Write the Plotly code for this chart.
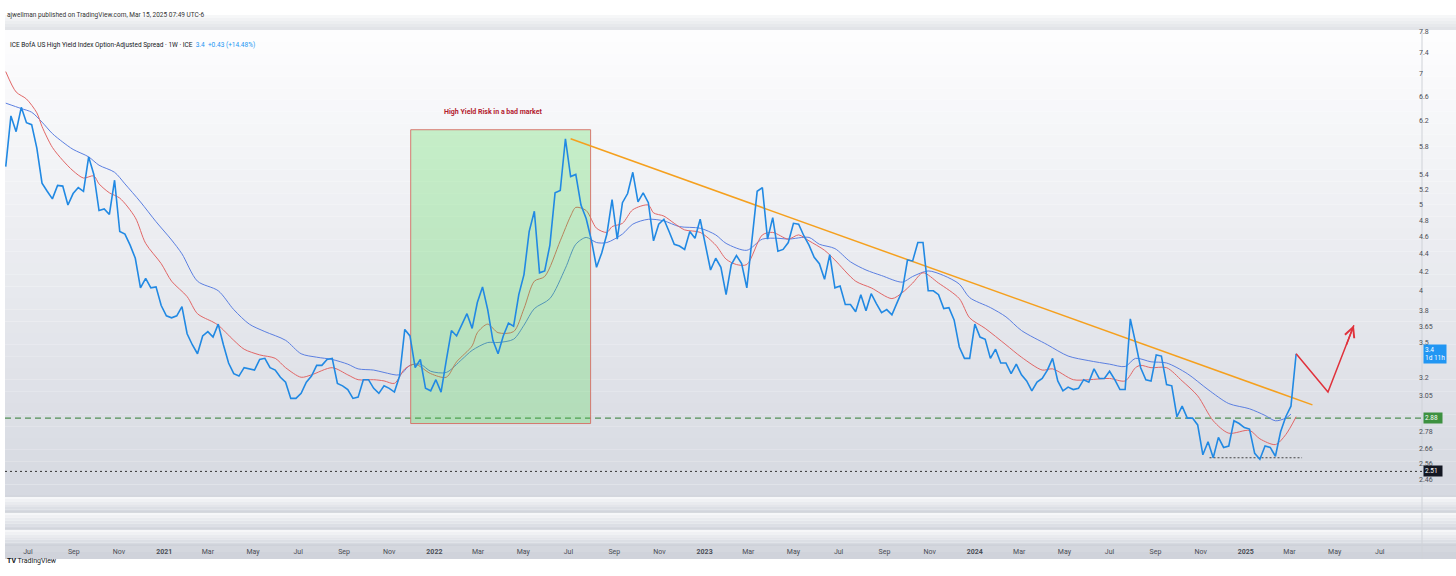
import math
import pandas as pd
import plotly.graph_objects as go

W, H = 1456, 576

# weekly ICE BofA US High Yield OAS (%)
spread = [
    5.51, 6.28, 6.03, 6.42, 6.17, 6.14, 5.78, 5.28, 5.17, 5.07,
    5.25, 5.24, 4.99, 5.14, 5.22, 5.17, 5.65, 5.40, 4.92, 4.94,
    4.87, 5.32, 4.66, 4.63, 4.50, 4.35, 4.03, 4.13, 4.03, 4.04,
    3.85, 3.75, 3.73, 3.75, 3.84, 3.58, 3.48, 3.40, 3.56, 3.60,
    3.55, 3.67, 3.48, 3.32, 3.23, 3.21, 3.28, 3.27, 3.26, 3.35,
    3.36, 3.28, 3.26, 3.20, 3.16, 3.03, 3.03, 3.07, 3.16, 3.21,
    3.30, 3.30, 3.35, 3.36, 3.15, 3.13, 3.10, 3.03, 3.04, 3.18,
    3.18, 3.11, 3.07, 3.13, 3.11, 3.08, 3.21, 3.62, 3.56, 3.28,
    3.35, 3.11, 3.09, 3.18, 3.08, 3.34, 3.61, 3.56, 3.66, 3.77,
    3.63, 3.88, 4.04, 3.81, 3.52, 3.40, 3.56, 3.68, 3.65, 3.96,
    4.17, 4.66, 4.91, 4.19, 4.21, 4.50, 5.15, 5.18, 5.92, 5.37,
    5.40, 4.99, 4.82, 4.56, 4.25, 4.41, 4.63, 5.06, 4.57, 5.02,
    5.14, 5.43, 5.03, 5.15, 5.02, 4.55, 4.75, 4.81, 4.66, 4.51,
    4.49, 4.45, 4.66, 4.58, 4.81, 4.50, 4.22, 4.35, 4.25, 3.96,
    4.28, 4.38, 4.29, 4.03, 4.56, 5.17, 5.22, 4.57, 4.83, 4.43,
    4.45, 4.53, 4.76, 4.75, 4.61, 4.50, 4.36, 4.29, 4.12, 4.39,
    4.03, 4.05, 3.86, 3.86, 3.79, 3.96, 3.80, 3.97, 3.87, 3.78,
    3.81, 3.76, 3.88, 4.00, 4.33, 4.32, 4.53, 4.53, 4.00, 4.00,
    3.96, 3.82, 3.83, 3.71, 3.46, 3.36, 3.36, 3.67, 3.55, 3.53,
    3.36, 3.44, 3.32, 3.32, 3.23, 3.31, 3.22, 3.17, 3.09, 3.16,
    3.19, 3.26, 3.36, 3.17, 3.09, 3.12, 3.10, 3.11, 3.18, 3.16,
    3.27, 3.19, 3.19, 3.25, 3.18, 3.10, 3.10, 3.72, 3.50, 3.28,
    3.18, 3.17, 3.39, 3.38, 3.14, 3.13, 2.89, 2.97, 2.88, 2.88,
    2.83, 2.62, 2.71, 2.60, 2.74, 2.67, 2.68, 2.86, 2.84, 2.81,
    2.80, 2.63, 2.59, 2.68, 2.67, 2.61, 2.78, 2.89, 2.97, 3.40,
]
last_week = "2025-03-10"

# fast moving average (red), week index into spread -> value
red_ma_weeks = [0, 2, 4, 6, 7, 9, 11, 13, 15, 17, 18, 20, 22, 25, 27, 30, 32, 35, 37, 40,
                41, 44, 46, 49, 52, 54, 57, 59, 63, 66, 68, 71, 73, 75, 77, 79, 82, 85, 87, 90,
                91, 93, 95, 98, 100, 102, 104, 107, 109, 110, 112, 114, 116, 117, 119, 121, 124, 125, 127, 129,
                131, 134, 137, 139, 141, 143, 146, 148, 151, 153, 155, 158, 160, 164, 167, 171, 173, 175, 177, 180,
                184, 186, 189, 193, 196, 200, 202, 206, 209, 213, 216, 218, 219, 221, 224, 227, 230, 233, 236, 240,
                242, 245, 247, 249]
red_ma = [7.04, 6.68, 6.56, 6.33, 6.11, 5.79, 5.60, 5.45, 5.35, 5.38, 5.27, 5.15, 5.08, 4.83, 4.52, 4.29, 4.10, 3.94, 3.77, 3.69,
          3.66, 3.52, 3.44, 3.39, 3.36, 3.28, 3.20, 3.22, 3.28, 3.22, 3.18, 3.18, 3.17, 3.15, 3.27, 3.31, 3.23, 3.20, 3.33, 3.47,
          3.59, 3.67, 3.59, 3.60, 3.82, 4.10, 4.15, 4.55, 4.85, 4.96, 4.92, 4.70, 4.65, 4.72, 4.76, 4.93, 4.99, 4.89, 4.85, 4.76,
          4.68, 4.65, 4.50, 4.34, 4.28, 4.28, 4.62, 4.65, 4.57, 4.62, 4.55, 4.44, 4.33, 4.10, 4.03, 3.92, 3.98, 4.08, 4.19, 4.08,
          3.92, 3.73, 3.63, 3.48, 3.37, 3.26, 3.27, 3.18, 3.18, 3.19, 3.17, 3.28, 3.30, 3.28, 3.28, 3.17, 3.05, 2.86, 2.77, 2.79,
          2.73, 2.69, 2.76, 2.89]

# slow moving average (blue)
blue_ma_weeks = [0, 3, 5, 7, 9, 11, 13, 16, 18, 21, 23, 26, 29, 32, 34, 37, 41, 44, 47, 50,
                 54, 57, 60, 63, 66, 68, 71, 73, 76, 78, 80, 82, 85, 88, 90, 93, 95, 98, 100, 102,
                 105, 108, 110, 112, 114, 116, 119, 121, 124, 127, 130, 134, 137, 139, 143, 146, 149, 151, 155, 157,
                 160, 163, 166, 169, 173, 175, 178, 181, 184, 186, 190, 193, 196, 201, 205, 209, 213, 216, 218, 221,
                 224, 228, 232, 236, 240, 243, 245, 247, 248]
blue_ma = [6.49, 6.40, 6.34, 6.18, 6.00, 5.87, 5.76, 5.65, 5.53, 5.43, 5.27, 5.03, 4.78, 4.56, 4.40, 4.10, 4.00, 3.81, 3.67, 3.60,
           3.52, 3.40, 3.37, 3.35, 3.31, 3.27, 3.26, 3.24, 3.22, 3.30, 3.31, 3.25, 3.24, 3.35, 3.43, 3.50, 3.50, 3.53, 3.66, 3.82,
           3.92, 4.24, 4.51, 4.59, 4.53, 4.53, 4.63, 4.75, 4.81, 4.79, 4.72, 4.70, 4.62, 4.52, 4.44, 4.57, 4.58, 4.57, 4.59, 4.51,
           4.46, 4.31, 4.22, 4.16, 4.09, 4.15, 4.21, 4.16, 4.07, 3.93, 3.83, 3.74, 3.61, 3.48, 3.38, 3.34, 3.31, 3.29, 3.36, 3.33,
           3.32, 3.23, 3.10, 2.99, 2.95, 2.90, 2.86, 2.88, 2.91]

y_ticks = [7.8, 7.4, 7, 6.6, 6.2, 5.8, 5.4, 5.2, 5, 4.8, 4.6, 4.4, 4.2, 4, 3.8, 3.65, 3.5,
           3.2, 3.05, 2.78, 2.66, 2.56, 2.46]

x_ticks = ["2020-07-01", "2020-09-01", "2020-11-01", "2021-01-01", "2021-03-01", "2021-05-01",
           "2021-07-01", "2021-09-01", "2021-11-01", "2022-01-01", "2022-03-01", "2022-05-01",
           "2022-07-01", "2022-09-01", "2022-11-01", "2023-01-01", "2023-03-01", "2023-05-01",
           "2023-07-01", "2023-09-01", "2023-11-01", "2024-01-01", "2024-03-01", "2024-05-01",
           "2024-07-01", "2024-09-01", "2024-11-01", "2025-01-01", "2025-03-01", "2025-05-01",
           "2025-07-01"]
x_labels = ["Jul", "Sep", "Nov", "2021", "Mar", "May", "Jul", "Sep", "Nov", "2022", "Mar", "May",
            "Jul", "Sep", "Nov", "2023", "Mar", "May", "Jul", "Sep", "Nov", "2024", "Mar", "May",
            "Jul", "Sep", "Nov", "2025", "Mar", "May", "Jul"]

# drawings
box_x = ["2021-11-30", "2022-07-31"]
box_y = [2.84, 6.06]
box_note = "High Yield Risk in a bad market"
box_note_at = ("2022-03-22", 6.35)
trend_x = ["2022-07-04", "2025-04-01"]
trend_y = [5.92, 2.98]
green_level = 2.88
black_level = 2.51
low_x = ["2024-11-13", "2025-03-18"]
low_level = 2.60
path_x = ["2025-03-10", "2025-04-22", "2025-05-27"]
path_y = [3.40, 3.08, 3.66]

x_range = ["2020-05-31", "2025-08-27"]
y_range = [2.354, 7.84]

weeks = pd.date_range(end=last_week, periods=len(spread), freq="W-MON")
red_dates = [weeks[i] for i in red_ma_weeks]
blue_dates = [weeks[i] for i in blue_ma_weeks]

FONT = "Roboto"
PANE_TOP, PANE_BOT, AXIS_X = 28, 496, 1422


def px(x):
    return x / W


def py(y):
    return 1 - y / H


fig = go.Figure()


def band(top, bottom, c_top, c_bot, steps, left=5, right=W):
    for i in range(steps):
        t = i / max(steps - 1, 1)
        col = tuple(round(a + (b - a) * t) for a, b in zip(c_top, c_bot))
        y0 = top + (bottom - top) * i / steps
        y1 = top + (bottom - top) * (i + 1) / steps
        fig.add_shape(type="rect", xref="paper", yref="paper",
                      x0=px(left), x1=px(right), y0=py(y1), y1=py(y0),
                      fillcolor="rgb(%d,%d,%d)" % col, line_width=0, layer="below")


# backgrounds
band(13, PANE_TOP, (246, 247, 248), (226, 228, 232), 5)
band(PANE_TOP, PANE_BOT, (253, 253, 254), (214, 217, 225), 40)
for top, bot in [(496, 512), (512, 529), (529, 545)]:
    band(top, bot, (246, 247, 249), (214, 217, 224), 6)
band(545, 559, (212, 215, 222), (208, 211, 219), 2)
for yy in [496, 512, 529, 545]:
    fig.add_shape(type="line", xref="paper", yref="paper", x0=px(5), x1=1,
                  y0=py(yy), y1=py(yy), line=dict(color="#c9cdd5", width=1), layer="below")
fig.add_shape(type="line", xref="paper", yref="paper", x0=px(AXIS_X), x1=px(AXIS_X),
              y0=py(559), y1=py(PANE_TOP), line=dict(color="#cfd2d8", width=1), layer="below")

# horizontal levels
fig.add_trace(go.Scatter(x=x_range, y=[green_level, green_level], mode="lines",
                         line=dict(color="#2e7d32", width=1, dash="6px,4px"), hoverinfo="skip"))
fig.add_trace(go.Scatter(x=x_range, y=[black_level, black_level], mode="lines",
                         line=dict(color="#333333", width=1, dash="2px,3px"), hoverinfo="skip"))
fig.add_trace(go.Scatter(x=low_x, y=[low_level, low_level], mode="lines",
                         line=dict(color="#444444", width=1, dash="2px,2px"), hoverinfo="skip"))

# moving averages
fig.add_trace(go.Scatter(x=blue_dates, y=blue_ma, mode="lines", name="MA slow",
                         line=dict(color="#5b7fe0", width=1, shape="spline", smoothing=0.8)))
fig.add_trace(go.Scatter(x=red_dates, y=red_ma, mode="lines", name="MA fast",
                         line=dict(color="#e06666", width=1, shape="spline", smoothing=0.8)))

# highlighted box
fig.add_trace(go.Scatter(x=[box_x[0], box_x[1], box_x[1], box_x[0], box_x[0]],
                         y=[box_y[0], box_y[0], box_y[1], box_y[1], box_y[0]],
                         mode="lines", fill="toself", fillcolor="rgba(60,215,60,0.26)",
                         line=dict(color="rgba(214,110,100,0.9)", width=1), hoverinfo="skip"))

# trend line
fig.add_trace(go.Scatter(x=trend_x, y=trend_y, mode="lines",
                         line=dict(color="#f5a01e", width=1.5), hoverinfo="skip"))

# main series
fig.add_trace(go.Scatter(x=weeks, y=spread, mode="lines", name="HY OAS",
                         line=dict(color="#2189e3", width=1.6)))

# projected path
fig.add_trace(go.Scatter(x=path_x, y=path_y, mode="lines",
                         line=dict(color="#e0323c", width=1.5), hoverinfo="skip"))
fig.add_annotation(x=path_x[-1], y=math.log10(path_y[-1]), ax=-8, ay=21, text="",
                   showarrow=True, arrowhead=5, arrowsize=1.3, arrowwidth=1.5,
                   arrowcolor="#e0323c", standoff=0)

fig.add_annotation(x=box_note_at[0], y=math.log10(box_note_at[1]), text="<b>%s</b>" % box_note,
                   showarrow=False, font=dict(family=FONT, size=7, color="#b3202e"))

# right-axis badges
badges = [(3.4, "3.4   <br>1d 11h", "#2196f3"), (green_level, "2.88  ", "#3d9140"),
          (black_level, "2.51  ", "#131722")]
for val, txt, col in badges:
    fig.add_annotation(xref="paper", x=px(AXIS_X + 1), xanchor="left", y=math.log10(val),
                       text=txt, showarrow=False, bgcolor=col, borderpad=1, align="left",
                       font=dict(family=FONT, size=6.5, color="white"))

# header, legend, footer
fig.add_annotation(xref="paper", yref="paper", x=px(5), y=py(7), xanchor="left",
                   text="ajwellman published on TradingView.com, Mar 15, 2025 07:49 UTC-6",
                   showarrow=False, font=dict(family=FONT, size=6.5, color="#333333"))
fig.add_annotation(xref="paper", yref="paper", x=px(8), y=py(37.5), xanchor="left",
                   text="ICE BofA US High Yield Index Option-Adjusted Spread · 1W · ICE  "
                        "<span style='color:#2196f3'>3.4  +0.43 (+14.48%)</span>",
                   showarrow=False, font=dict(family=FONT, size=6.5, color="#131722"))
fig.add_annotation(xref="paper", yref="paper", x=px(5), y=py(567), xanchor="left",
                   text="<b>TV</b> TradingView", showarrow=False,
                   font=dict(family=FONT, size=7, color="#131722"))

ticktext = ["<b>%s</b>" % t if t.isdigit() else t for t in x_labels]

fig.update_layout(
    width=W, height=H,
    margin=dict(l=0, r=0, t=0, b=0),
    paper_bgcolor="white",
    plot_bgcolor="rgba(0,0,0,0)",
    showlegend=False,
    font=dict(family=FONT, size=7, color="#4a4d55"),
    xaxis=dict(domain=[px(5), px(AXIS_X)], range=x_range, type="date",
               anchor="free", position=py(546), showgrid=False, zeroline=False,
               showline=False, ticks="", tickvals=x_ticks, ticktext=ticktext,
               tickfont=dict(family=FONT, size=7, color="#4a4d55")),
    yaxis=dict(domain=[py(PANE_BOT), py(PANE_TOP)], type="log",
               range=[math.log10(y_range[0]), math.log10(y_range[1])],
               side="right", showgrid=False, zeroline=False, showline=False, ticks="",
               ticklabelstandoff=-4,
               tickvals=y_ticks, ticktext=[str(v) for v in y_ticks],
               tickfont=dict(family=FONT, size=7, color="#4a4d55")),
)

fig.write_html("out.html", config={"displayModeBar": False},
               post_script="document.body.style.margin='0';document.body.style.overflow='hidden';")
